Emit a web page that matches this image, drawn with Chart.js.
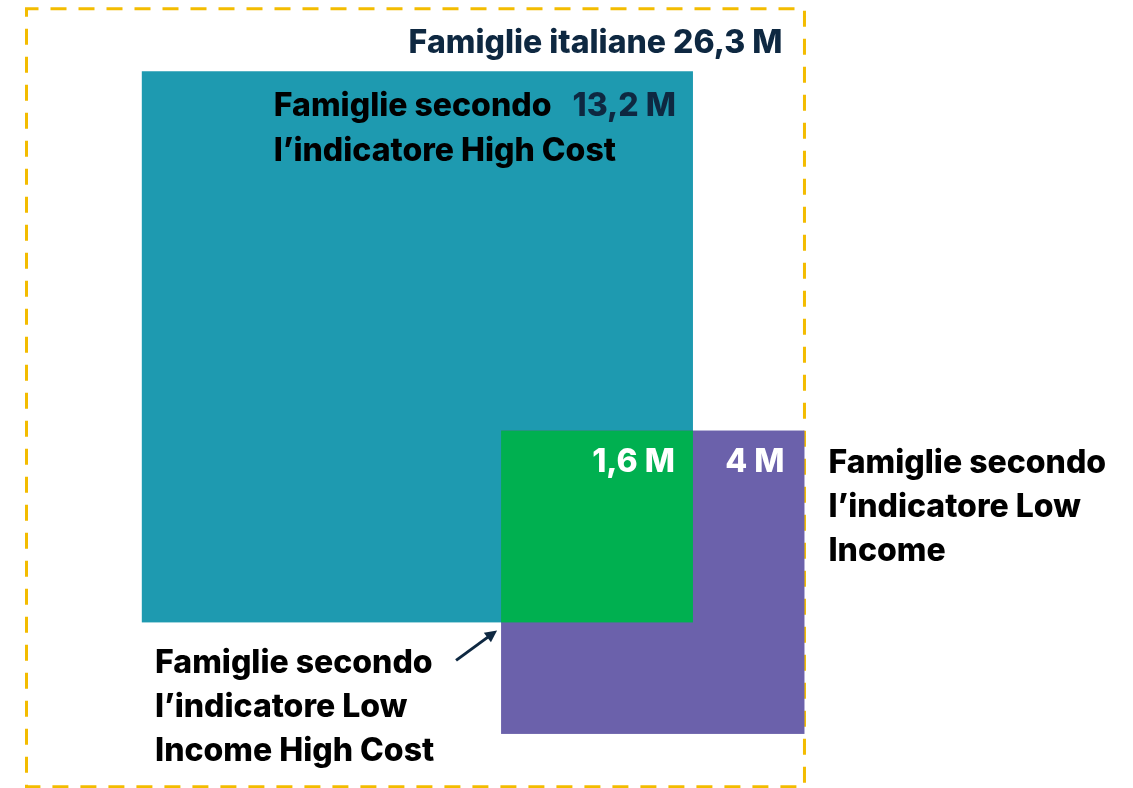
<!DOCTYPE html>
<html lang="it">
<head>
<meta charset="utf-8">
<title>Famiglie italiane</title>
<script src="https://cdn.jsdelivr.net/npm/chart.js@4"></script>
<style>
  html, body { margin: 0; padding: 0; background: #fff; }
  canvas { display: block; }
</style>
</head>
<body>
<canvas id="quadrati" width="1133" height="788"></canvas>
<script>
// insiemi di famiglie (in milioni), l'area di ogni quadrato e' proporzionale al valore
const categorie = [
  ['Famiglie italiane'],
  ['Famiglie secondo', 'l’indicatore High Cost'],
  ['Famiglie secondo', 'l’indicatore Low', 'Income'],
  ['Famiglie secondo', 'l’indicatore Low', 'Income High Cost']
];
const valori = [26.3, 13.2, 4, 1.6];
const colori = ['#F3BC00', '#1E9AB0', '#6B61AB', '#00B050'];

const FONT = '800 32px Inter, "Open Sans", sans-serif';
const NAVY = '#0E2841';

function etichetta(v) {
  return String(v).replace('.', ',') + ' M';
}

// lato dei quadrati = radice del valore, cosi' l'area segue il dato
function geometria() {
  const lato = valori.map(Math.sqrt);
  const esterno = { x: 0, y: 0, s: lato[0] };
  const low = { x: lato[0] - lato[2], y: 2.78, s: lato[2] };
  const inter = { x: low.x, y: low.y, s: lato[3] };
  const high = { x: inter.x + lato[3] - lato[1], y: inter.y + lato[3] - lato[1], s: lato[1] };
  return { esterno, high, low, inter };
}

function righe(ctx, lines, x, y, passo) {
  lines.forEach((t, i) => ctx.fillText(t, x, y + i * passo));
}

const squaresPlugin = {
  id: 'squaresPlugin',
  beforeDatasetsDraw(chart) {
    const ctx = chart.ctx;
    const sx = chart.scales.x, sy = chart.scales.y;
    const g = geometria();
    const rect = q => {
      const x1 = sx.getPixelForValue(q.x), x2 = sx.getPixelForValue(q.x + q.s);
      const y1 = sy.getPixelForValue(q.y), y2 = sy.getPixelForValue(q.y + q.s);
      return [x1, y1, x2 - x1, y2 - y1];
    };
    ctx.save();
    // cornice tratteggiata per il totale
    ctx.strokeStyle = colori[0];
    ctx.lineWidth = 3;
    ctx.setLineDash([16, 12]);
    ctx.lineDashOffset = 4;
    ctx.strokeRect(...rect(g.esterno));
    ctx.setLineDash([]);
    ctx.fillStyle = colori[1];
    ctx.fillRect(...rect(g.high));
    ctx.fillStyle = colori[2];
    ctx.fillRect(...rect(g.low));
    ctx.fillStyle = colori[3];
    ctx.fillRect(...rect(g.inter));
    ctx.restore();
  },
  afterDatasetsDraw(chart) {
    const ctx = chart.ctx;
    const sx = chart.scales.x, sy = chart.scales.y;
    const g = geometria();
    const X = v => sx.getPixelForValue(v), Y = v => sy.getPixelForValue(v);
    const passo = 44;
    ctx.save();
    ctx.font = FONT;
    ctx.textBaseline = 'middle';

    // totale
    ctx.fillStyle = NAVY;
    ctx.textAlign = 'right';
    ctx.fillText(categorie[0][0] + ' ' + etichetta(valori[0]), X(g.esterno.x + g.esterno.s) - 22, Y(0) + 35);

    // High Cost
    const hy = Y(g.high.y) + 35;
    ctx.fillText(etichetta(valori[1]), X(g.high.x + g.high.s) - 17, hy);
    ctx.fillStyle = '#000';
    ctx.textAlign = 'left';
    righe(ctx, categorie[1], X(g.high.x) + 132, hy, 45);

    // valori dentro i quadrati piccoli
    const vy = Y(g.low.y) + 32;
    ctx.fillStyle = '#fff';
    ctx.textAlign = 'right';
    ctx.fillText(etichetta(valori[3]), X(g.inter.x + g.inter.s) - 18, vy);
    ctx.fillText(etichetta(valori[2]), X(g.low.x + g.low.s) - 20, vy);

    // Low Income a destra
    ctx.fillStyle = '#000';
    ctx.textAlign = 'left';
    righe(ctx, categorie[2], X(g.low.x + g.low.s) + 24, vy + 1, passo);

    // Low Income High Cost in basso, con freccia verso l'intersezione
    const ax = X(g.inter.x), ay = Y(g.inter.y + g.inter.s);
    righe(ctx, categorie[3], 155, ay + 41, passo);

    const ex = ax - 4, ey = ay + 8, bx = ex - 41, by = ey + 30;
    const ang = Math.atan2(ey - by, ex - bx);
    ctx.strokeStyle = NAVY;
    ctx.fillStyle = NAVY;
    ctx.lineWidth = 3;
    ctx.beginPath();
    ctx.moveTo(bx, by);
    ctx.lineTo(ex - 8 * Math.cos(ang), ey - 8 * Math.sin(ang));
    ctx.stroke();
    ctx.beginPath();
    ctx.moveTo(ex, ey);
    ctx.lineTo(ex - 12 * Math.cos(ang) + 6 * Math.sin(ang), ey - 12 * Math.sin(ang) - 6 * Math.cos(ang));
    ctx.lineTo(ex - 12 * Math.cos(ang) - 6 * Math.sin(ang), ey - 12 * Math.sin(ang) + 6 * Math.cos(ang));
    ctx.closePath();
    ctx.fill();
    ctx.restore();
  }
};

// la finestra degli assi: 1 unita' = radice di 1 milione, circa 151.7 px
const K = 151.7, X0 = 26.5, Y0 = 8.8;
const W = 1133, H = 788;

new Chart(document.getElementById('quadrati'), {
  type: 'scatter',
  data: { datasets: [] },
  options: {
    responsive: false,
    animation: false,
    layout: { padding: 0 },
    plugins: { legend: { display: false }, tooltip: { enabled: false } },
    scales: {
      x: { type: 'linear', display: false, min: -X0 / K, max: (W - X0) / K },
      y: { type: 'linear', display: false, reverse: true, min: -Y0 / K, max: (H - Y0) / K }
    }
  },
  plugins: [squaresPlugin]
});
</script>
</body>
</html>
